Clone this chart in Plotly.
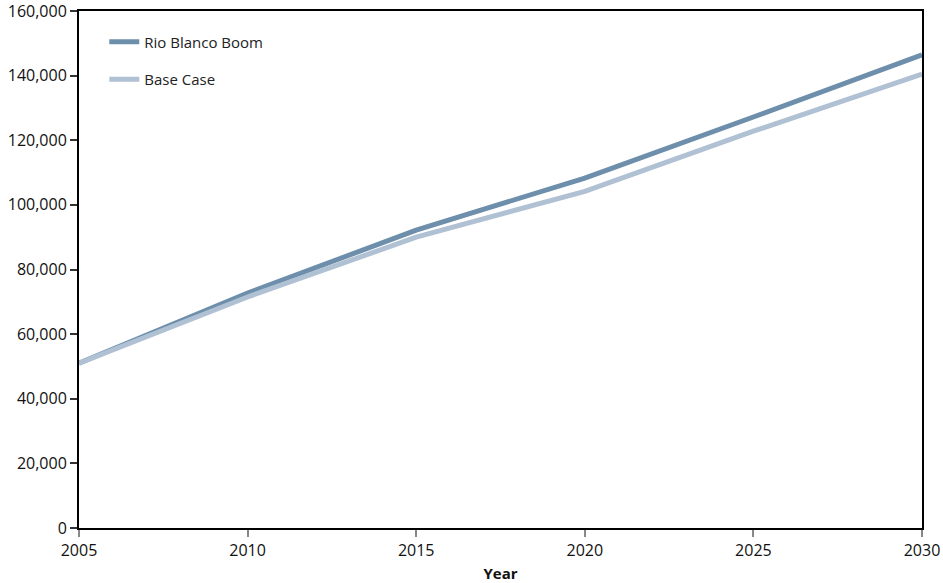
import plotly.graph_objects as go

years = [2005, 2010, 2015, 2020, 2025, 2030]
rio_blanco_boom = [51000, 72700, 92200, 108300, 127200, 146400]
base_case = [51000, 71500, 90000, 104200, 122800, 140500]
series_names = ["Rio Blanco Boom", "Base Case"]
y_ticks = [0, 20000, 40000, 60000, 80000, 100000, 120000, 140000, 160000]

FONT = "Open Sans, Noto Sans, sans-serif"

fig = go.Figure()
fig.add_trace(go.Scatter(x=years, y=rio_blanco_boom, mode="lines", name=series_names[0],
                         legendgroup="a",
                         line=dict(color="#6e8fab", width=5)))
fig.add_trace(go.Scatter(x=years, y=base_case, mode="lines", name=series_names[1],
                         legendgroup="b",
                         line=dict(color="#b0c1d3", width=5)))

fig.update_layout(
    width=943, height=583,
    margin=dict(l=79, r=21, t=11, b=55, autoexpand=False),
    paper_bgcolor="white", plot_bgcolor="white",
    font=dict(family=FONT, size=15, color="#111111"),
    showlegend=True,
    legend=dict(x=0.03, y=0.972, xanchor="left", yanchor="top",
                bgcolor="rgba(0,0,0,0)", font=dict(size=15, color="#222222"),
                tracegroupgap=15, itemwidth=30),
    xaxis=dict(range=[2005, 2030], tickvals=years, ticktext=[str(y) for y in years],
               showgrid=False, zeroline=False, automargin=False,
               ticklabeloverflow="allow",
               showline=True, linecolor="black", linewidth=2, mirror=True,
               ticks="outside", ticklen=7, tickcolor="#888888", tickwidth=1.5,
               tickfont=dict(size=16),
               title=dict(text="<b>Year</b>", font=dict(size=15, color="#111111"), standoff=9)),
    yaxis=dict(range=[0, 160000], tickvals=y_ticks,
               ticktext=[f"{v:,}" for v in y_ticks],
               showgrid=False, zeroline=False, automargin=False,
               ticklabeloverflow="allow",
               showline=True, linecolor="black", linewidth=2, mirror=True,
               ticks="outside", ticklen=7, tickcolor="#333333", tickwidth=1.5,
               tickfont=dict(size=16)),
)

fig.write_html("out.html", config={"displayModeBar": False},
               post_script="document.body.style.margin='0';document.body.style.padding='0';")
